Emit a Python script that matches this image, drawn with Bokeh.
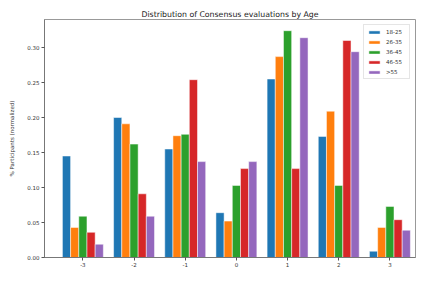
from bokeh.plotting import figure
from bokeh.models import ColumnDataSource, FixedTicker, NumeralTickFormatter, Range1d, Legend, LegendItem
from bokeh.transform import dodge
from bokeh.embed import file_html
from bokeh.resources import INLINE

scores = [-3, -2, -1, 0, 1, 2, 3]
score_labels = ["-3", "-2", "-1", "0", "1", "2", "3"]
age_groups = ["18-25", "26-35", "36-45", "46-55", ">55"]
v_18_25 = [0.145, 0.200, 0.155, 0.064, 0.255, 0.173, 0.009]
v_26_35 = [0.043, 0.191, 0.174, 0.052, 0.287, 0.209, 0.043]
v_36_45 = [0.059, 0.162, 0.176, 0.103, 0.324, 0.103, 0.073]
v_46_55 = [0.036, 0.091, 0.254, 0.127, 0.127, 0.310, 0.054]
v_gt55 = [0.019, 0.059, 0.137, 0.137, 0.314, 0.294, 0.039]
y_ticks = [0.0, 0.05, 0.10, 0.15, 0.20, 0.25, 0.30]

colors = ["#1f77b4", "#ff7f0e", "#2ca02c", "#d62728", "#9467bd"]
series = [v_18_25, v_26_35, v_36_45, v_46_55, v_gt55]
keys = ["a", "b", "c", "d", "e"]

data = {"x": scores}
for k, s in zip(keys, series):
    data[k] = s
src = ColumnDataSource(data)

FONT = "DejaVu Sans"
p = figure(width=416, height=269, output_backend="svg", toolbar_location=None,
           x_range=Range1d(-3.75, 3.5), y_range=Range1d(0, 0.34),
           min_border_left=44, min_border_right=1, min_border_top=19, min_border_bottom=11,
           title="Distribution of Consensus evaluations by Age")
p.title.text_font = FONT
p.title.text_font_size = "7.8px"
p.title.text_font_style = "normal"
p.title.align = "center"
p.title.text_color = "#222222"
p.title.standoff = 2

w = 0.16
items = []
for i, (k, c, name) in enumerate(zip(keys, colors, age_groups)):
    off = (i - 2) * w
    r = p.vbar(x=dodge("x", off, range=p.x_range), top=k, width=w, source=src,
               fill_color=c, line_color="white", line_width=0.5)
    items.append(LegendItem(label=name, renderers=[r]))

legend = Legend(items=items, location="top_right")
legend.label_text_font = FONT
legend.label_text_font_size = "5.5px"
legend.label_text_color = "#333333"
legend.glyph_width = 14
legend.glyph_height = 4
legend.label_height = 7
legend.label_standoff = 5
legend.spacing = 3
legend.padding = 3
legend.margin = 5
legend.border_line_color = "#cccccc"
legend.border_line_width = 1
legend.background_fill_alpha = 0.9
p.add_layout(legend)

p.xgrid.visible = False
p.ygrid.visible = False
p.outline_line_color = "#999999"
p.outline_line_width = 1

for ax in (p.xaxis[0], p.yaxis[0]):
    ax.axis_line_color = "#777777"
    ax.major_tick_line_color = "#555555"
    ax.major_tick_out = 3
    ax.major_tick_in = 0
    ax.minor_tick_line_color = None
    ax.major_label_text_font = FONT
    ax.major_label_text_font_size = "5.5px"
    ax.major_label_text_color = "#333333"
    ax.major_label_standoff = 2

p.xaxis.major_label_standoff = 1
p.xaxis.ticker = FixedTicker(ticks=scores)
p.xaxis.major_label_overrides = {s: lab for s, lab in zip(scores, score_labels)}
p.yaxis.ticker = FixedTicker(ticks=y_ticks)
p.yaxis.formatter = NumeralTickFormatter(format="0.00")
p.yaxis.axis_label = "% Participants (normalized)"
p.yaxis.axis_label_text_font = FONT
p.yaxis.axis_label_text_font_size = "5.5px"
p.yaxis.axis_label_text_font_style = "normal"
p.yaxis.axis_label_text_color = "#333333"
p.yaxis.axis_label_standoff = 9

open("out.html", "w").write(file_html(p, INLINE))
